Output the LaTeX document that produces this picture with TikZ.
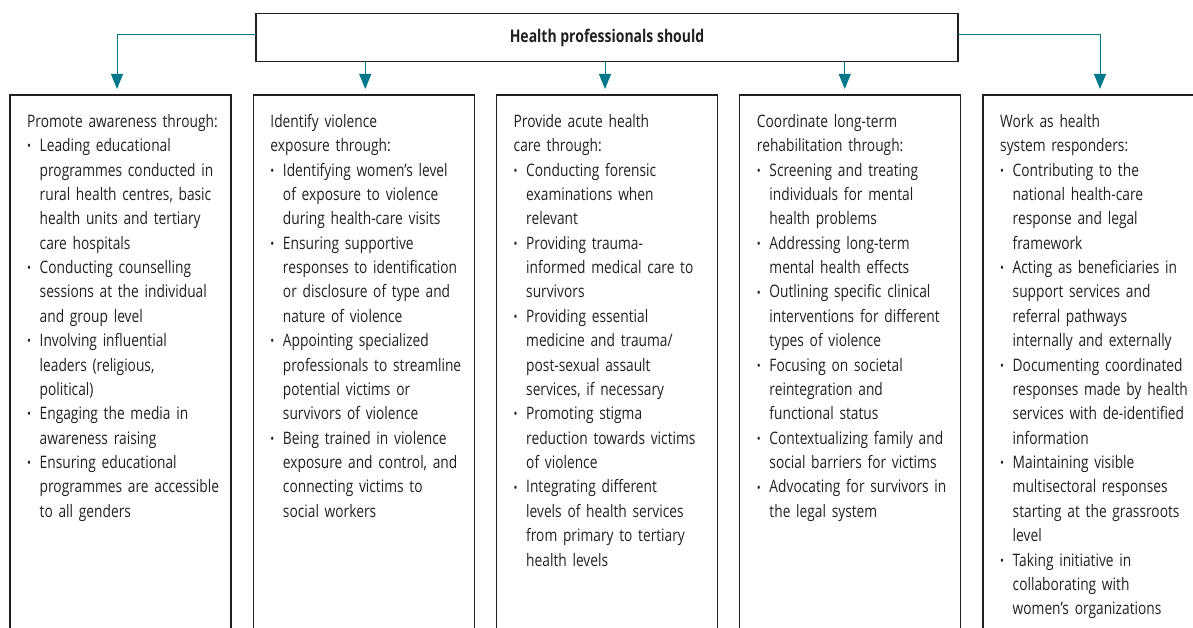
\documentclass[tikz,border=0pt]{standalone}
\usepackage{fontspec}
\setmainfont{Open Sans}[FakeStretch=0.8]
\usetikzlibrary{arrows.meta,positioning}
\definecolor{ink}{RGB}{35,31,32}
\definecolor{linkteal}{RGB}{0,120,138}
\newdimen\colw
\newdimen\colh
\newdimen\colgap
\colw=221pt
\colh=560pt
\colgap=22.25pt
\newcommand\colfont{\fontsize{17.2}{24.375}\selectfont}
\newcommand\pointmark{\raisebox{.05em}{\fontsize{13}{13}\selectfont\textbullet}}
\newenvironment{points}{%
  \begin{list}{\pointmark}{%
    \setlength\leftmargin{12.5pt}%
    \setlength\labelwidth{12.5pt}%
    \setlength\labelsep{0pt}%
    \setlength\itemsep{0pt}%
    \setlength\parsep{0pt}%
    \setlength\topsep{0pt}%
    \setlength\partopsep{0pt}%
    \renewcommand\makelabel[1]{##1\hfil}}}%
  {\end{list}}
\tikzstyle{column}=[
  draw=ink,
  line width=1.2pt,
  minimum height=\colh,
  minimum width=\colw,
  inner sep=0pt,
  outer sep=0pt,
  rectangle,
  anchor=north west,
]
\tikzstyle{headbox}=[
  draw=ink,
  line width=1.4pt,
  minimum height=48pt,
  minimum width=702pt,
  outer sep=0pt,
  font={\fontsize{17.5}{20}\selectfont\bfseries},
  text=ink,
]
\tikzstyle{coltext}=[
  anchor=north west,
  inner sep=0pt,
  text width=205pt,
  align=left,
  font=\colfont,
  text=ink,
]
\tikzstyle{arrow}=[
  draw=linkteal,
  color=linkteal,
  line width=1pt,
  shorten >=6pt,
]
\tikzset{
  node distance=\colgap,
  >={Triangle[width=12pt,length=15pt]},
}

\begin{document}
\begin{tikzpicture}[x=1pt,y=1pt]
  \useasboundingbox (0,0) rectangle (1193,-628);
  \clip (0,0) rectangle (1193,-628);
  \node (lead) [headbox] at (607,-37.5) {Health professionals should};
  \node (promote) [column] at (10,-95) {};
  \node (identify) [column, right=of promote] {};
  \node (acute) [column, right=of identify] {};
  \node (rehab) [column, right=of acute] {};
  \node (system) [column, right=of rehab] {};
  \node (promotetext) [coltext] at ([shift={(17pt,-15pt)}]promote.north west) {\strut Promote awareness through:
    \begin{points}
      \item Leading educational\\ programmes conducted in\\ rural health centres, basic\\ health units and tertiary\\ care hospitals
      \item Conducting counselling\\ sessions at the individual\\ and group level
      \item Involving influential\\ leaders (religious,\\ political)
      \item Engaging the media in\\ awareness raising
      \item Ensuring educational\\ programmes are accessible\\ to all genders
    \end{points}};
  \node (identifytext) [coltext] at ([shift={(17pt,-15pt)}]identify.north west) {\strut Identify violence\\ exposure through:
    \begin{points}
      \item Identifying women’s level\\ of exposure to violence\\ during health-care visits
      \item Ensuring supportive\\ responses to identification\\ or disclosure of type and\\ nature of violence
      \item Appointing specialized\\ professionals to streamline\\ potential victims or\\ survivors of violence
      \item Being trained in violence\\ exposure and control, and\\ connecting victims to\\ social workers
    \end{points}};
  \node (acutetext) [coltext] at ([shift={(17pt,-15pt)}]acute.north west) {\strut Provide acute health\\ care through:
    \begin{points}
      \item Conducting forensic\\ examinations when\\ relevant
      \item Providing trauma-\\ informed medical care to\\ survivors
      \item Providing essential\\ medicine and trauma/\\ post-sexual assault\\ services, if necessary
      \item Promoting stigma\\ reduction towards victims\\ of violence
      \item Integrating different\\ levels of health services\\ from primary to tertiary\\ health levels
    \end{points}};
  \node (rehabtext) [coltext] at ([shift={(17pt,-15pt)}]rehab.north west) {\strut Coordinate long-term\\ rehabilitation through:
    \begin{points}
      \item Screening and treating\\ individuals for mental\\ health problems
      \item Addressing long-term\\ mental health effects
      \item Outlining specific clinical\\ interventions for different\\ types of violence
      \item Focusing on societal\\ reintegration and\\ functional status
      \item Contextualizing family and\\ social barriers for victims
      \item Advocating for survivors in\\ the legal system
    \end{points}};
  \node (systemtext) [coltext] at ([shift={(17pt,-15pt)}]system.north west) {\strut Work as health\\ system responders:
    \begin{points}
      \item Contributing to the\\ national health-care\\ response and legal\\ framework
      \item Acting as beneficiaries in\\ support services and\\ referral pathways\\ internally and externally
      \item Documenting coordinated\\ responses made by health\\ services with de-identified\\ information
      \item Maintaining visible\\ multisectoral responses\\ starting at the grassroots\\ level
      \item Taking initiative in\\ collaborating with\\ women’s organizations
    \end{points}};
  % arrow ends, slightly off the box centres as in the source
  \coordinate (promotetip) at ([xshift=-3.5pt]promote.north);
  \coordinate (identifytip) at ([xshift=1.5pt]identify.north);
  \coordinate (acutetip) at ([xshift=-2pt]acute.north);
  \coordinate (rehabtip) at ([xshift=-5.5pt]rehab.north);
  \coordinate (systemtip) at ([xshift=6.5pt]system.north);
  \draw [->, arrow] ([yshift=2.5pt]lead.west) -| (promotetip);
  \draw [->, arrow] (lead.south -| identifytip) -- (identifytip);
  \draw [->, arrow] (lead.south -| acutetip) -- (acutetip);
  \draw [->, arrow] (lead.south -| rehabtip) -- (rehabtip);
  \draw [->, arrow] ([yshift=2.5pt]lead.east) -| (systemtip);
\end{tikzpicture}
\end{document}
